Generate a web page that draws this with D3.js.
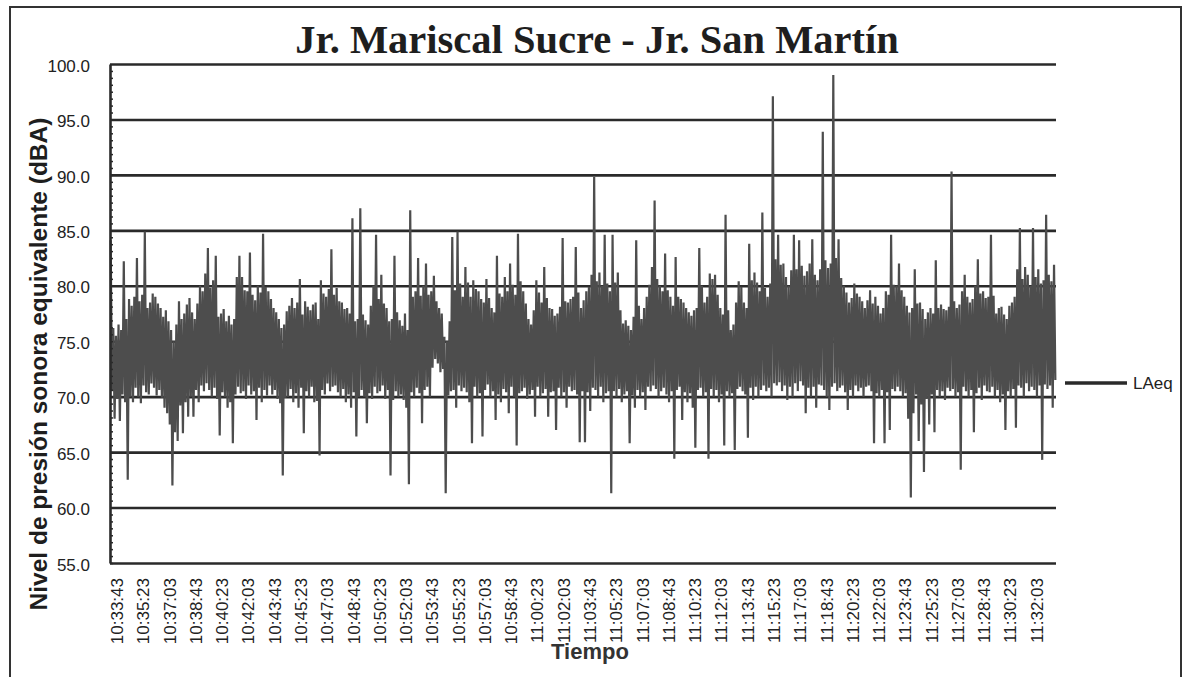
<!DOCTYPE html>
<html>
<head>
<meta charset="utf-8">
<script src="https://cdn.jsdelivr.net/npm/d3@7/dist/d3.min.js"></script>
<style>
body { margin: 0; background: #fff; }
</style>
</head>
<body>
<div id="chart"></div>
<script>
// tick labels on the time axis (one every 100 s)
var timeLabels = ["10:33:43", "10:35:23", "10:37:03", "10:38:43", "10:40:23", "10:42:03",
    "10:43:43", "10:45:23", "10:47:03", "10:48:43", "10:50:23", "10:52:03",
    "10:53:43", "10:55:23", "10:57:03", "10:58:43", "11:00:23", "11:02:03",
    "11:03:43", "11:05:23", "11:07:03", "11:08:43", "11:10:23", "11:12:03",
    "11:13:43", "11:15:23", "11:17:03", "11:18:43", "11:20:23", "11:22:03",
    "11:23:43", "11:25:23", "11:27:03", "11:28:43", "11:30:23", "11:32:03"];

var yTicks = [55, 60, 65, 70, 75, 80, 85, 90, 95, 100];

// LAeq, one value every 5 s (a row = 100 s)
var laeq = [
    84.1, 70.5, 76.2, 68.0, 75.5, 69.8, 76.5, 67.8, 76.0, 70.2, 82.2, 69.5, 77.0, 62.5, 78.8, 70.0, 78.2, 69.5, 79.0, 70.8,
    82.5, 70.0, 78.6, 69.4, 79.2, 71.0, 84.9, 70.4, 78.0, 70.2, 78.5, 71.2, 79.3, 70.8, 79.0, 70.1, 78.4, 70.6, 78.0, 69.9,
    77.2, 69.0, 77.8, 68.5, 76.8, 67.5, 76.0, 62.0, 75.0, 66.8, 76.5, 66.0, 78.6, 69.2, 77.0, 66.7, 77.5, 69.5, 78.3, 68.2,
    78.9, 70.0, 77.6, 68.2, 77.0, 70.6, 78.4, 69.5, 80.0, 71.0, 79.5, 70.5, 81.1, 71.2, 83.4, 70.6, 79.8, 70.0, 80.5, 70.8,
    82.7, 69.8, 77.2, 66.5, 77.5, 70.4, 77.9, 70.0, 76.8, 69.0, 77.3, 69.5, 76.5, 65.8, 77.0, 70.2, 80.8, 70.9, 82.7, 70.3,
    80.8, 70.5, 79.6, 69.8, 79.5, 71.0, 83.0, 70.2, 79.2, 70.5, 78.7, 67.9, 80.0, 70.8, 79.4, 69.5, 84.7, 70.6, 79.9, 70.1,
    79.5, 71.0, 78.8, 70.2, 78.0, 70.6, 77.6, 69.8, 77.0, 69.4, 76.2, 62.9, 76.5, 69.9, 77.7, 70.0, 78.2, 70.7, 78.9, 69.5,
    78.0, 70.3, 78.5, 69.0, 80.6, 70.8, 77.4, 66.7, 78.6, 70.5, 78.1, 70.0, 77.8, 70.9, 78.3, 69.5, 78.5, 69.6, 77.0, 64.7,
    80.5, 70.6, 79.3, 70.2, 79.0, 71.2, 79.7, 70.5, 83.3, 70.9, 79.2, 71.0, 79.8, 70.4, 78.6, 70.0, 78.5, 70.7, 77.9, 69.5,
    78.0, 70.2, 77.5, 69.0, 86.1, 70.4, 76.8, 66.4, 77.0, 70.0, 87.0, 70.6, 77.4, 70.0, 76.9, 67.6, 76.5, 70.3, 78.2, 69.8,
    80.0, 70.9, 84.6, 70.3, 78.8, 70.5, 81.0, 71.0, 78.4, 69.8, 78.0, 70.6, 76.8, 62.9, 77.0, 69.7, 82.7, 70.5, 77.6, 70.0,
    76.9, 70.2, 76.4, 69.7, 77.5, 69.0, 76.0, 62.1, 86.8, 70.4, 79.0, 70.0, 79.5, 70.8, 82.5, 70.3, 79.1, 67.6, 80.0, 70.6,
    82.0, 70.9, 79.2, 70.0, 79.5, 72.6, 80.9, 73.4, 78.6, 73.0, 78.0, 72.2, 77.5, 72.5, 75.4, 61.3, 75.0, 70.1, 76.8, 70.5,
    84.4, 70.6, 79.6, 69.0, 84.9, 71.0, 80.2, 70.5, 79.0, 70.8, 81.7, 70.4, 80.3, 69.5, 79.0, 65.8, 80.5, 70.9, 79.7, 70.0,
    79.5, 70.3, 78.8, 66.4, 78.5, 70.6, 80.6, 71.1, 78.9, 70.0, 78.0, 70.5, 77.6, 67.9, 82.7, 70.2, 79.3, 69.5, 79.0, 70.7,
    80.8, 70.4, 79.5, 68.5, 82.0, 70.9, 80.1, 70.0, 79.2, 65.6, 84.7, 70.3, 80.4, 70.5, 79.5, 70.8, 78.4, 69.8, 77.0, 70.2,
    76.5, 70.6, 77.8, 68.2, 80.5, 70.9, 79.4, 70.0, 78.5, 70.3, 81.7, 70.7, 78.9, 68.2, 78.0, 70.4, 77.9, 70.5, 77.3, 67.0,
    77.5, 70.8, 78.1, 70.0, 84.3, 70.4, 78.6, 69.0, 78.5, 70.9, 78.8, 70.5, 79.0, 70.6, 83.5, 70.2, 79.4, 65.9, 78.0, 70.5,
    78.7, 65.9, 79.5, 70.4, 79.9, 68.7, 81.0, 70.8, 89.8, 70.6, 80.4, 70.0, 81.2, 70.9, 80.0, 69.5, 84.6, 70.3, 80.2, 70.5,
    79.5, 61.3, 84.6, 70.5, 80.3, 70.0, 81.2, 70.7, 77.8, 69.5, 76.6, 70.2, 76.9, 70.5, 76.4, 65.8, 76.0, 70.1, 77.2, 69.0,
    84.1, 70.6, 78.2, 70.0, 77.0, 70.4, 78.0, 68.8, 79.0, 70.9, 80.1, 70.5, 81.7, 71.0, 87.7, 70.7, 80.6, 70.0, 80.0, 70.5,
    79.5, 70.8, 82.9, 70.2, 79.6, 69.5, 79.0, 70.5, 78.2, 64.4, 82.6, 70.6, 79.0, 70.9, 78.8, 67.9, 78.5, 70.4, 78.0, 69.5,
    77.6, 70.3, 77.3, 69.0, 77.8, 65.4, 78.0, 70.6, 83.4, 70.8, 80.0, 70.0, 78.5, 70.4, 79.0, 64.4, 81.1, 70.7, 80.6, 70.0,
    81.0, 70.6, 79.2, 69.5, 78.0, 70.2, 77.4, 65.6, 86.4, 70.5, 77.8, 70.0, 76.0, 70.3, 76.5, 65.2, 78.5, 70.7, 80.4, 70.9,
    79.9, 70.5, 78.5, 70.2, 78.0, 66.3, 83.8, 70.8, 80.5, 69.7, 81.2, 70.9, 80.3, 70.0, 79.5, 70.6, 86.6, 71.0, 79.8, 70.5,
    79.0, 70.8, 80.2, 70.0, 97.1, 71.2, 82.4, 71.0, 84.6, 71.3, 81.9, 70.5, 82.0, 71.0, 80.8, 69.7, 80.0, 70.9, 81.4, 70.0,
    84.6, 71.2, 81.5, 70.5, 84.1, 71.4, 81.8, 71.0, 80.9, 68.5, 81.3, 70.8, 82.0, 70.0, 84.2, 70.9, 81.0, 69.0, 80.5, 71.1,
    81.5, 71.0, 93.9, 70.6, 82.3, 70.0, 81.6, 68.8, 82.0, 70.9, 99.0, 71.2, 82.5, 70.5, 84.2, 70.8, 80.7, 71.0, 80.0, 70.4,
    79.4, 68.8, 78.5, 70.6, 78.9, 70.0, 80.2, 71.0, 79.3, 70.5, 79.0, 70.8, 78.6, 70.0, 78.0, 70.9, 78.7, 71.0, 79.6, 70.5,
    78.4, 65.8, 79.0, 70.3, 78.2, 70.0, 77.5, 70.6, 78.0, 65.8, 79.5, 70.4, 79.2, 67.0, 84.6, 70.7, 80.1, 70.5, 80.0, 70.9,
    82.0, 70.5, 79.6, 70.0, 79.0, 70.3, 78.2, 68.0, 77.6, 60.9, 78.0, 68.5, 81.5, 70.2, 78.4, 66.0, 78.5, 69.3, 77.9, 63.2,
    77.0, 69.8, 77.6, 67.5, 78.0, 70.2, 77.5, 66.8, 82.3, 70.6, 78.0, 70.0, 78.3, 70.5, 77.9, 69.7, 77.8, 70.8, 78.1, 70.5,
    90.3, 70.7, 78.6, 70.0, 78.0, 70.4, 78.3, 63.4, 79.5, 70.9, 81.0, 70.5, 79.0, 70.0, 78.5, 70.6, 78.8, 66.8, 80.0, 70.3,
    82.4, 70.8, 79.3, 69.7, 79.5, 71.0, 78.9, 70.5, 79.0, 70.4, 84.6, 70.9, 79.1, 70.0, 77.5, 70.6, 78.0, 69.5, 78.1, 70.2,
    77.4, 67.0, 77.0, 70.5, 78.2, 70.0, 78.5, 70.7, 79.0, 67.2, 81.5, 71.0, 85.2, 70.8, 80.6, 70.0, 81.7, 71.2, 81.0, 70.5,
    80.0, 70.9, 85.2, 70.6, 80.8, 70.0, 81.5, 71.0, 80.2, 64.3, 80.5, 71.1, 86.4, 70.7, 81.0, 71.0, 80.4, 69.0, 81.9, 71.5
];

var step = 5;           // seconds per value
var labelEvery = 100;   // seconds between time labels
var seriesName = "LAeq";
var title = "Jr. Mariscal Sucre - Jr. San Martín";
var yTitle = "Nivel de presión sonora equivalente (dBA)";
var xTitle = "Tiempo";

var width = 1183, height = 677;
var plot = {left: 110, right: 1056, top: 64, bottom: 563};
var sans = "'Liberation Sans', Arial, sans-serif";

var svg = d3.select("#chart")
    .append("svg")
    .attr("width", width)
    .attr("height", height);

// outer frame
svg.append("rect")
    .attr("x", 10)
    .attr("y", 7)
    .attr("width", 1171)
    .attr("height", 690)
    .attr("fill", "none")
    .attr("stroke", "#333")
    .attr("stroke-width", 2);

var x = d3.scaleLinear()
    .domain([0, laeq.length * step])
    .range([plot.left, plot.right]);

var y = d3.scaleLinear()
    .domain([55, 100])
    .range([plot.bottom, plot.top]);

// grid + y labels
var yAxis = svg.append("g")
    .attr("transform", "translate(" + plot.left + ",0)")
    .call(d3.axisLeft(y)
        .tickValues(yTicks)
        .tickSize(-(plot.right - plot.left))
        .tickPadding(20)
        .tickFormat(d3.format(".1f")));

yAxis.select(".domain").remove();
yAxis.selectAll(".tick line")
    .attr("stroke", "#2a2a2a")
    .attr("stroke-width", 2.6);
yAxis.selectAll(".tick text")
    .attr("font-family", sans)
    .attr("font-size", 17)
    .attr("fill", "#222")
    .attr("dy", "0.42em");

// the series
var line = d3.line()
    .x(function (d, i) { return x(i * step + step / 2); })
    .y(function (d) { return y(d); });

svg.append("path")
    .datum(laeq)
    .attr("d", line)
    .attr("fill", "none")
    .attr("stroke", "#4d4d4d")
    .attr("stroke-width", 2.2)
    .attr("stroke-linejoin", "miter");

// y axis line with small inner ticks
var minor = svg.append("g")
    .attr("transform", "translate(" + plot.left + ",0)")
    .call(d3.axisRight(y)
        .tickValues(d3.range(55, 100, 0.625))
        .tickSize(3)
        .tickSizeOuter(0)
        .tickFormat(""));
minor.select(".domain")
    .attr("stroke", "#2a2a2a")
    .attr("stroke-width", 2.6);
minor.selectAll(".tick line")
    .attr("stroke", "#2a2a2a")
    .attr("stroke-width", 1.5);

// time labels
var xAxis = svg.append("g")
    .attr("transform", "translate(0," + plot.bottom + ")")
    .call(d3.axisBottom(x)
        .tickValues(timeLabels.map(function (d, i) { return i * labelEvery; }))
        .tickSize(0)
        .tickFormat(function (d, i) { return timeLabels[i]; }));

xAxis.select(".domain").remove();
xAxis.selectAll(".tick text")
    .attr("transform", "rotate(-90)")
    .attr("text-anchor", "end")
    .attr("x", -15)
    .attr("y", 12.5)
    .attr("dy", 0)
    .attr("font-family", sans)
    .attr("font-size", 17)
    .attr("fill", "#222");

// titles
svg.append("text")
    .attr("x", 597)
    .attr("y", 53)
    .attr("text-anchor", "middle")
    .attr("font-family", "'Liberation Serif', 'Times New Roman', serif")
    .attr("font-weight", "bold")
    .attr("font-size", 40.5)
    .attr("fill", "#1e1e1e")
    .text(title);

svg.append("text")
    .attr("transform", "translate(47,364) rotate(-90)")
    .attr("text-anchor", "middle")
    .attr("font-family", sans)
    .attr("font-weight", "bold")
    .attr("font-size", 24.5)
    .attr("fill", "#1e1e1e")
    .text(yTitle);

svg.append("text")
    .attr("x", 590)
    .attr("y", 659)
    .attr("text-anchor", "middle")
    .attr("font-family", sans)
    .attr("font-weight", "bold")
    .attr("font-size", 22)
    .attr("fill", "#333")
    .text(xTitle);

// legend
var legend = svg.append("g")
    .attr("transform", "translate(1065,383)");

legend.append("line")
    .attr("x1", 0)
    .attr("x2", 62)
    .attr("stroke", "#2a2a2a")
    .attr("stroke-width", 3.5);

legend.append("text")
    .attr("x", 68)
    .attr("dy", "0.36em")
    .attr("font-family", sans)
    .attr("font-size", 17)
    .attr("fill", "#222")
    .text(seriesName);
</script>
</body>
</html>
